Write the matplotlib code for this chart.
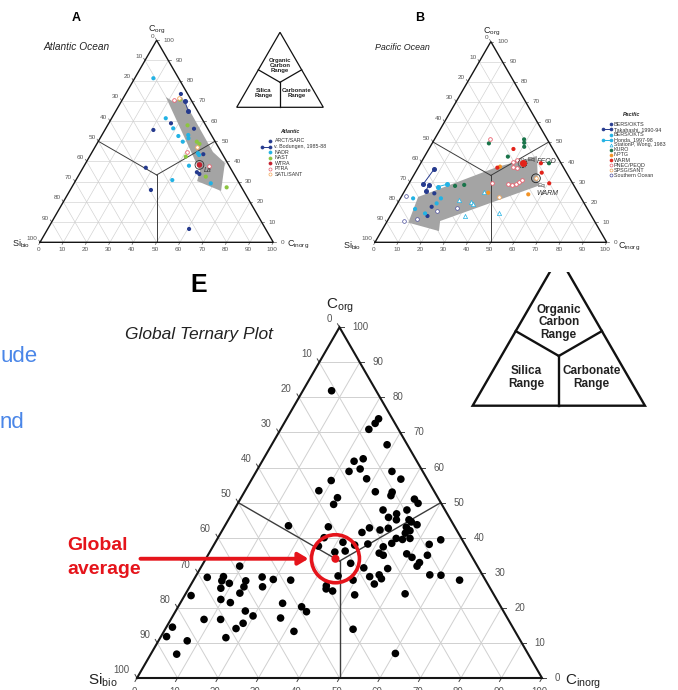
import numpy as np
import matplotlib
matplotlib.use("Agg")
import matplotlib.pyplot as plt
from matplotlib.patches import Polygon, Circle, Rectangle, FancyArrowPatch

plt.rcParams['font.family'] = ['Liberation Sans', 'DejaVu Sans']
plt.rcParams['mathtext.fontset'] = 'custom'
plt.rcParams['mathtext.rm'] = 'Liberation Sans'
plt.rcParams['mathtext.it'] = 'Liberation Sans:italic'
plt.rcParams['mathtext.bf'] = 'Liberation Sans:bold'

# ---------------------------------------------------------------- data
# Compositions in percent (C_org, C_inorg); Si_bio makes up the remainder.

# Panel E: global compilation
global_c_org = [81.9, 73.9, 72.6, 70.9, 66.5, 62.5, 61.8, 58.9, 59.6, 58.9, 56.3, 56.8, 56.7,
                53.4, 53.1, 53.0, 52.0, 51.4, 49.5, 51.0, 49.8, 47.9, 47.9, 46.8, 45.8, 45.1,
                45.1, 44.5, 43.7, 43.0, 42.0, 41.3, 41.5, 42.8, 42.2, 42.7, 39.8, 39.5, 39.8,
                38.4, 37.4, 38.2, 38.1, 39.4, 38.7, 35.9, 36.2, 37.9, 35.6, 35.0, 35.4, 34.4,
                35.0, 32.9, 31.9, 32.7, 31.4, 31.2, 28.9, 29.4, 28.3, 26.8, 29.1, 27.9, 29.4,
                29.3, 27.9, 24.8, 23.7, 24.0, 13.9, 7.0,
                43.4, 43.1, 40.0, 37.6, 26.3, 25.4, 31.9, 28.7, 28.9, 27.7, 25.6, 27.0, 27.7,
                26.0, 28.8, 26.0, 28.1, 27.9, 23.5, 24.2, 22.4, 21.5, 21.3, 20.3, 18.9, 19.1,
                17.7, 16.7, 16.7, 17.1, 15.6, 14.1, 14.5, 13.3, 11.8, 11.5, 10.6, 6.8]
global_c_inorg = [7.1, 22.7, 22.5, 21.8, 28.5, 24.6, 22.7, 22.9, 25.3, 33.5, 19.8, 28.3, 36.8,
                  18.2, 32.3, 36.5, 36.7, 23.8, 23.8, 43.0, 44.5, 36.8, 42.7, 40.7, 39.2, 41.5,
                  44.6, 45.5, 47.3, 45.0, 46.4, 45.6, 34.8, 36.0, 38.9, 40.7, 47.5, 45.8, 44.1,
                  43.7, 42.1, 37.9, 53.1, 55.3, 31.5, 30.9, 33.3, 34.8, 42.0, 43.3, 48.9, 50.7,
                  54.2, 53.3, 53.2, 36.4, 40.3, 46.3, 43.0, 45.1, 46.2, 45.2, 35.1, 39.4, 57.6,
                  60.4, 65.7, 35.9, 41.9, 54.2, 46.4, 60.3,
                  15.7, 25.7, 26.2, 26.0, 33.6, 34.0, 9.4, 3.0, 6.9, 7.1, 7.9, 9.3, 13.0,
                  13.4, 16.5, 18.0, 19.6, 24.0, 1.6, 13.3, 9.5, 12.3, 25.3, 30.5, 32.4, 17.2,
                  19.8, 8.2, 12.3, 26.9, 18.4, 17.4, 1.5, 32.1, 1.4, 16.2, 7.1, 6.4]
global_mean_c_org = [34.0]
global_mean_c_inorg = [32.0]

# Panel A: Atlantic provinces
atl_arct_c_org = [73.4, 58.9, 55.6, 56.2, 43.6, 34.7, 33.8, 36.9, 25.9, 6.6]
atl_arct_c_inorg = [23.7, 26.7, 20.8, 37.9, 48.2, 49.9, 51.4, 26.9, 34.6, 60.6]
atl_bodungen_c_org = [70.0, 65.0]
atl_bodungen_c_inorg = [27.0, 31.0]
atl_nadr_c_org = [81.2, 61.4, 56.4, 52.6, 53.1, 51.5, 49.8, 44.1, 43.2, 37.9, 30.8, 29.2]
atl_nadr_c_inorg = [8.0, 23.2, 28.9, 33.0, 37.0, 37.9, 36.3, 45.6, 46.6, 44.9, 41.3, 58.6]
atl_nast_c_org = [70.6, 57.9, 49.8, 48.7, 42.4, 32.5, 27.2]
atl_nast_c_inorg = [24.7, 34.3, 42.3, 44.0, 41.3, 54.8, 66.4]
atl_wtra_c_org = [38.3]
atl_wtra_c_inorg = [49.2]
atl_ptra_c_org = [70.4, 44.9, 37.9]
atl_ptra_c_inorg = [22.4, 40.5, 53.6]
atl_satl_c_org = [71.6, 47.3]
atl_satl_c_inorg = [23.8, 43.5]
atl_trend_c_org = [71.9, 69.4, 71.9, 44.7, 39.3, 25.4, 30.3, 35.3]
atl_trend_c_inorg = [18.0, 22.7, 24.9, 51.8, 59.6, 64.9, 52.2, 50.9]

# Panel B: Pacific provinces
pac_bers_navy_c_org = [24.4, 17.7, 13.1]
pac_bers_navy_c_inorg = [13.4, 15.6, 16.1]
pac_takahashi_c_org = [[28.9, 36.5], [25.7, 28.6]]
pac_takahashi_c_inorg = [[6.3, 7.3], [9.0, 9.1]]
pac_bers_cyan_c_org = [21.9, 16.6, 19.4, 21.9, 14.4]
pac_bers_cyan_c_inorg = [5.5, 9.0, 16.9, 17.5, 14.4]
pac_honda_c_org = [27.7, 28.9]
pac_honda_c_inorg = [13.2, 16.7]
pac_stationp_c_org = [21.1, 20.2, 19.1, 13.3, 25.2, 14.4]
pac_stationp_c_inorg = [25.5, 31.3, 32.9, 32.2, 34.4, 46.4]
pac_kuro_c_org = [49.3, 51.3, 49.6, 47.6, 39.4, 42.7, 28.1, 28.6]
pac_kuro_c_inorg = [24.5, 38.7, 39.6, 40.6, 55.4, 36.0, 20.5, 24.2]
pac_nptg_c_org = [37.7, 24.7, 23.9]
pac_nptg_c_inorg = [35.1, 36.5, 54.2]
pac_warm_c_org = [46.5, 37.2, 39.4, 34.7, 29.4, 39.4]
pac_warm_c_inorg = [36.5, 34.2, 51.9, 54.6, 60.5, 44.0]
pac_pnec_c_org = [51.3, 40.2, 41.0, 37.7, 36.9, 29.4, 28.9, 28.6, 28.9, 30.2, 31.0]
pac_pnec_c_inorg = [23.9, 39.6, 40.7, 40.5, 43.0, 35.7, 43.0, 45.0, 46.4, 47.0, 47.8]
pac_spsg_c_org = [22.7, 31.9]
pac_spsg_c_inorg = [42.2, 53.5]
pac_south_c_org = [23.2, 10.8, 11.6, 15.6, 16.9]
pac_south_c_inorg = [1.6, 7.2, 12.5, 18.8, 27.0]
pac_trend_c_org = [9.8, 22.6, 37.5, 43.0, 28.1, 10.6, 5.6]
pac_trend_c_inorg = [9.5, 7.3, 33.9, 48.4, 56.3, 22.8, 24.8]

tick_values = list(range(0, 101, 10))

# ---------------------------------------------------------------- colours
NAVY = '#253a8e'
CYAN = '#22b2e4'
GREEN = '#8cc540'
DKRED = '#c4202e'
PINK = '#e8606e'
ORANGE = '#f2a65a'
KURO = '#19744a'
NPTG = '#f39325'
WARM = '#e2231a'
SOUTH = '#4a4e9c'
RED = '#e5141b'
GREY_BAND = '#a4a4a4'

# ---------------------------------------------------------------- figure
FIG_W, FIG_H = 678, 690
SQ = np.sqrt(3) / 2
fig = plt.figure(figsize=(FIG_W / 100, FIG_H / 100), dpi=100)
fig.patch.set_facecolor('white')


def tern(c_org, c_inorg):
    c_org = np.asarray(c_org, float) / 100.0
    c_inorg = np.asarray(c_inorg, float) / 100.0
    return c_inorg + c_org / 2.0, c_org * SQ


def ternary_axes(x0, ybase, width):
    h = width * SQ
    ax = fig.add_axes([x0 / FIG_W, 1 - ybase / FIG_H, width / FIG_W, h / FIG_H])
    ax.set_xlim(0, 1)
    ax.set_ylim(0, SQ)
    ax.axis('off')
    ax.width_px = width
    return ax


def frame(ax, fs, tick, gap_r, gap_l, extra_l, gap_b, lw_edge, lw_grid, lw_reg,
          fs_name, name_offsets):
    u = 1.0 / ax.width_px
    for v in range(10, 100, 10):
        for (o1, i1), (o2, i2) in [((v, 0), (v, 100 - v)),
                                   ((0, v), (100 - v, v)),
                                   ((0, 100 - v), (100 - v, 0))]:
            x, y = tern([o1, o2], [i1, i2])
            ax.plot(x, y, color='#d0d0d0', lw=lw_grid, zorder=1, solid_capstyle='butt')
    cx, cy = tern(100 / 3, 100 / 3)
    for o, i in [(50, 0), (50, 50), (0, 50)]:
        ex, ey = tern(o, i)
        ax.plot([cx, ex], [cy, ey], color='#3c3c3c', lw=lw_reg, zorder=2)
    x, y = tern([0, 0, 100, 0], [0, 100, 0, 0])
    ax.plot(x, y, color='#151515', lw=lw_edge, zorder=4, clip_on=False,
            solid_joinstyle='miter', solid_capstyle='projecting')
    for v in tick_values:
        lab = str(v)
        # C_org along the right edge
        px, py = tern(v, 100 - v)
        ax.plot([px, px + tick * u], [py, py], color='#444444', lw=lw_grid, clip_on=False)
        ax.text(px + gap_r * u, py, lab, ha='left', va='center', fontsize=fs, color='#555555')
        # Si_bio along the left edge
        px, py = tern(100 - v, 0)
        ax.plot([px, px - 0.5 * tick * u], [py, py + SQ * tick * u], color='#444444',
                lw=lw_grid, clip_on=False)
        ax.text(px - (0.5 * gap_l + extra_l) * u, py + SQ * gap_l * u, lab, ha='right',
                va='center', fontsize=fs, color='#555555')
        # C_inorg along the base
        px, py = tern(0, v)
        ax.plot([px, px - 0.5 * tick * u], [py, py - SQ * tick * u], color='#444444',
                lw=lw_grid, clip_on=False)
        ax.text(px - 0.3 * gap_b * u, py - SQ * gap_b * u, lab, ha='center', va='top',
                fontsize=fs, color='#555555')
    (tx, ty), (lx, ly), (rx, ry) = name_offsets
    top = tern(100, 0)
    ax.text(top[0] + tx * u, top[1] + ty * u, r'$\mathrm{C_{org}}$', ha='center',
            va='baseline', fontsize=fs_name, color='#222222')
    ax.text(lx * u, -ly * u, r'$\mathrm{Si_{bio}}$', ha='right', va='baseline',
            fontsize=fs_name, color='#222222')
    ax.text(1 + rx * u, -ry * u, r'$\mathrm{C_{inorg}}$', ha='left', va='baseline',
            fontsize=fs_name, color='#222222')


def dots(ax, c_org, c_inorg, color, s, filled=True, marker='o', lw=0.6, z=6):
    x, y = tern(c_org, c_inorg)
    if filled:
        ax.scatter(x, y, s=s, c=color, marker=marker, edgecolors='none', zorder=z, clip_on=False)
    else:
        ax.scatter(x, y, s=s, facecolors='white', edgecolors=color, linewidths=lw,
                   marker=marker, zorder=z, clip_on=False)


def band(ax, c_org, c_inorg):
    x, y = tern(c_org, c_inorg)
    ax.add_patch(Polygon(np.column_stack([x, y]), closed=True, fc=GREY_BAND, ec='none',
                         zorder=1.5))


# ---------------------------------------------------------------- panel A
axA = ternary_axes(40, 242.3, 233.3)
frame(axA, fs=4.6, tick=2.5, gap_r=7, gap_l=4.5, extra_l=0.5, gap_b=5,
      lw_edge=1.0, lw_grid=0.45, lw_reg=0.7, fs_name=6.5,
      name_offsets=((0, 8.4), (-10, 4.4), (13.7, 4.4)))
band(axA, atl_trend_c_org, atl_trend_c_inorg)
sA = 9
dots(axA, atl_arct_c_org, atl_arct_c_inorg, NAVY, sA)
bx, by = tern(atl_bodungen_c_org, atl_bodungen_c_inorg)
axA.plot(bx, by, color=NAVY, lw=0.6, marker='o', ms=2.6, zorder=6)
dots(axA, atl_nadr_c_org, atl_nadr_c_inorg, CYAN, sA)
dots(axA, atl_nast_c_org, atl_nast_c_inorg, GREEN, sA)
dots(axA, atl_ptra_c_org, atl_ptra_c_inorg, PINK, 7, filled=False, lw=0.6)
dots(axA, atl_satl_c_org, atl_satl_c_inorg, ORANGE, 7, filled=False, lw=0.6)
dots(axA, atl_wtra_c_org, atl_wtra_c_inorg, DKRED, 16)
wx, wy = tern(atl_wtra_c_org, atl_wtra_c_inorg)
axA.scatter(wx, wy, s=40, facecolors='none', edgecolors='#333333', linewidths=0.6, zorder=7)
axA.text(wx[0] + 4 / 233.3, wy[0] - 6 / 233.3, 'La', fontsize=5, style='italic',
         color='#333333', ha='left', va='center', zorder=8)

# ---------------------------------------------------------------- panel B
axB = ternary_axes(375, 242.3, 231.7)
frame(axB, fs=4.6, tick=2.5, gap_r=7, gap_l=4.5, extra_l=0.5, gap_b=5,
      lw_edge=1.0, lw_grid=0.45, lw_reg=0.7, fs_name=6.5,
      name_offsets=((1, 8.0), (-13.3, 6), (11.6, 6)))
band(axB, pac_trend_c_org, pac_trend_c_inorg)
sB = 9
dots(axB, pac_bers_navy_c_org, pac_bers_navy_c_inorg, NAVY, sB)
for co, ci in zip(pac_takahashi_c_org, pac_takahashi_c_inorg):
    x, y = tern(co, ci)
    axB.plot(x, y, color=NAVY, lw=0.7, marker='o', ms=2.6, zorder=6)
dots(axB, pac_bers_cyan_c_org, pac_bers_cyan_c_inorg, CYAN, sB)
x, y = tern(pac_honda_c_org, pac_honda_c_inorg)
axB.plot(x, y, color=CYAN, lw=0.7, marker='o', ms=2.6, zorder=6)
dots(axB, pac_stationp_c_org, pac_stationp_c_inorg, CYAN, 9, filled=False, marker='^', lw=0.5)
dots(axB, pac_kuro_c_org, pac_kuro_c_inorg, KURO, sB)
dots(axB, pac_nptg_c_org, pac_nptg_c_inorg, NPTG, sB)
dots(axB, pac_warm_c_org, pac_warm_c_inorg, WARM, sB)
dots(axB, pac_pnec_c_org, pac_pnec_c_inorg, PINK, 7, filled=False, lw=0.6)
dots(axB, pac_spsg_c_org, pac_spsg_c_inorg, ORANGE, 7, filled=False, lw=0.6)
dots(axB, pac_south_c_org, pac_south_c_inorg, SOUTH, 7, filled=False, lw=0.5)
ex, ey = tern(pac_warm_c_org[-1:], pac_warm_c_inorg[-1:])
axB.scatter(ex, ey, s=40, facecolors='none', edgecolors='#222222', linewidths=0.6,
            linestyle=(0, (1.5, 1)), zorder=7)
axB.scatter(ex, ey, s=16, c=WARM, zorder=7)
qx, qy = tern(pac_spsg_c_org[-1:], pac_spsg_c_inorg[-1:])
axB.scatter(qx, qy, s=40, facecolors='none', edgecolors='#222222', linewidths=0.6, zorder=7)
uB = 1 / 231.7
axB.text(ex[0] + 5 * uB, ey[0] + 4 * uB, 'Eq', fontsize=4.6, color='#333333', va='center')
axB.text(ex[0] + 14 * uB, ey[0] + 2 * uB, 'PEQD', fontsize=5, style='italic', color='#333333',
         va='center')
axB.text(qx[0] + 2 * uB, qy[0] - 7 * uB, 'Eq', fontsize=4.6, color='#333333', va='center')
axB.text(qx[0] + 0 * uB, qy[0] - 15 * uB, 'WARM', fontsize=5, style='italic', color='#333333',
         va='center')

# ---------------------------------------------------------------- panel E
axE = ternary_axes(137, 678, 405)
frame(axE, fs=7, tick=4, gap_r=13, gap_l=9.5, extra_l=2.5, gap_b=10,
      lw_edge=1.5, lw_grid=0.7, lw_reg=1.0, fs_name=11,
      name_offsets=((0, 19), (-19, 7), (23, 7)))
dots(axE, global_c_org, global_c_inorg, '#000000', 30)
gx, gy = tern(global_mean_c_org, global_mean_c_inorg)
axE.scatter(gx, gy, s=34, c=RED, edgecolors='none', zorder=8)
uE = 1 / 405
axE.add_patch(Circle((gx[0], gy[0]), 24 * uE, fill=False, ec=RED, lw=2.6, zorder=9,
                     clip_on=False))
axE.add_patch(FancyArrowPatch((gx[0] - 195 * uE, gy[0]), (gx[0] - 27 * uE, gy[0]),
                              arrowstyle='-|>,head_length=6,head_width=3.6',
                              mutation_scale=1, color=RED, lw=2.8, clip_on=False,
                              shrinkA=0, shrinkB=0, zorder=9))

# ---------------------------------------------------------------- overlay (pixel space)
ov = fig.add_axes([0, 0, 1, 1], zorder=10)
ov.set_xlim(0, FIG_W)
ov.set_ylim(FIG_H, 0)
ov.axis('off')
ov.patch.set_alpha(0)

ov.text(71.7, 20.7, 'A', fontsize=9, fontweight='bold', ha='left', va='baseline')
ov.text(415, 20.7, 'B', fontsize=9, fontweight='bold', ha='left', va='baseline')
ov.text(190, 291.5, 'E', fontsize=18, fontweight='bold', ha='left', va='baseline')
ov.text(43.3, 50, 'Atlantic Ocean', fontsize=7.3, style='italic', ha='left', va='baseline',
        color='#222222')
ov.text(375, 50, 'Pacific Ocean', fontsize=6.4, style='italic', ha='left', va='baseline',
        color='#222222')
ov.text(125, 338.5, 'Global Ternary Plot', fontsize=12.5, style='italic', ha='left',
        va='baseline', color='#222222')

ov.text(67, 546, 'Global', fontsize=14, fontweight='bold', color=RED, ha='left', va='center')
ov.text(67, 569, 'average', fontsize=14, fontweight='bold', color=RED, ha='left', va='center')

ov.text(0, 356, 'ude', fontsize=16, color='#4a86e8', ha='left', va='center')
ov.text(0, 423, 'nd', fontsize=16, color='#4a86e8', ha='left', va='center')


def range_key(cx, base, width, fs, lw, clip_top=None):
    h = width * SQ
    pts = [(cx - width / 2, base), (cx + width / 2, base), (cx, base - h)]
    tri = Polygon(pts, closed=True, fill=False, ec='#111111', lw=lw, joinstyle='miter')
    ov.add_patch(tri)
    cy = base - h / 3
    segs = [[(cx, cy), (cx - width / 4, base - h / 2)],
            [(cx, cy), (cx + width / 4, base - h / 2)],
            [(cx, cy), (cx, base)]]
    for s in segs:
        ov.plot(*zip(*s), color='#111111', lw=lw)
    if clip_top is not None:
        tri.set_clip_path(Rectangle((0, clip_top), FIG_W, FIG_H, transform=ov.transData))
    kw = dict(fontsize=fs, fontweight='bold', ha='center', va='center', color='#222222',
              linespacing=1.05)
    ov.text(cx, base - 0.56 * h, 'Organic\nCarbon\nRange', **kw)
    ov.text(cx - 0.19 * width, base - 0.19 * h, 'Silica\nRange', **kw)
    ov.text(cx + 0.19 * width, base - 0.19 * h, 'Carbonate\nRange', **kw)


range_key(280, 107.3, 86.6, 4.3, 0.9)
range_key(558.8, 405.7, 172.3, 8.5, 1.7, clip_top=271.5)


def legend(x_mark, x_text, y0, dy, title, title_xy, entries, fs, ms):
    ov.text(title_xy[0], title_xy[1], title, fontsize=fs, fontweight='bold', style='italic',
            ha='center', va='center', color='#222222')
    for i, (label, color, marker, filled, line) in enumerate(entries):
        y = y0 + i * dy
        face = color if filled else 'white'
        if line:
            ov.plot([x_mark - 8, x_mark], [y, y], color=color, lw=0.7, marker=marker, ms=ms,
                    mfc=face, mec=color, mew=0.5)
        else:
            ov.plot([x_mark], [y], color=color, marker=marker, ms=ms, mfc=face, mec=color,
                    mew=0.5, ls='none')
        ov.text(x_text, y, label, fontsize=fs, ha='left', va='center', color='#333333')


legend(270, 274.5, 141, 5.55, 'Atlantic', (289.3, 131.7), [
    ('ARCT/SARC', NAVY, 'o', True, False),
    ('v. Bodungen, 1985-88', NAVY, 'o', True, True),
    ('NADR', CYAN, 'o', True, False),
    ('NAST', GREEN, 'o', True, False),
    ('WTRA', DKRED, 'o', True, False),
    ('PTRA', PINK, 'o', False, False),
    ('SATL/SANT', ORANGE, 'o', False, False),
], fs=3.8, ms=2.2)

legend(610.7, 613.5, 124.3, 5.1, 'Pacific', (631.7, 114.3), [
    ('BERS/OKTS', NAVY, 'o', True, False),
    ('Takahashi, 1990-94', NAVY, 'o', True, True),
    ('BERS/OKTS', CYAN, 'o', True, False),
    ('Honda, 1997-98', CYAN, 'o', True, True),
    ('StationP, Wong, 1983', CYAN, '^', False, False),
    ('KURO', KURO, 'o', True, False),
    ('NPTG', NPTG, 'o', True, False),
    ('WARM', WARM, 'o', True, False),
    ('PNEC/PEQD', PINK, 'o', False, False),
    ('SPSG/SANT', ORANGE, 'o', False, False),
    ('Southern Ocean', SOUTH, 'o', False, False),
], fs=3.9, ms=2.1)

fig.savefig('out.png', dpi=100, facecolor='white')
